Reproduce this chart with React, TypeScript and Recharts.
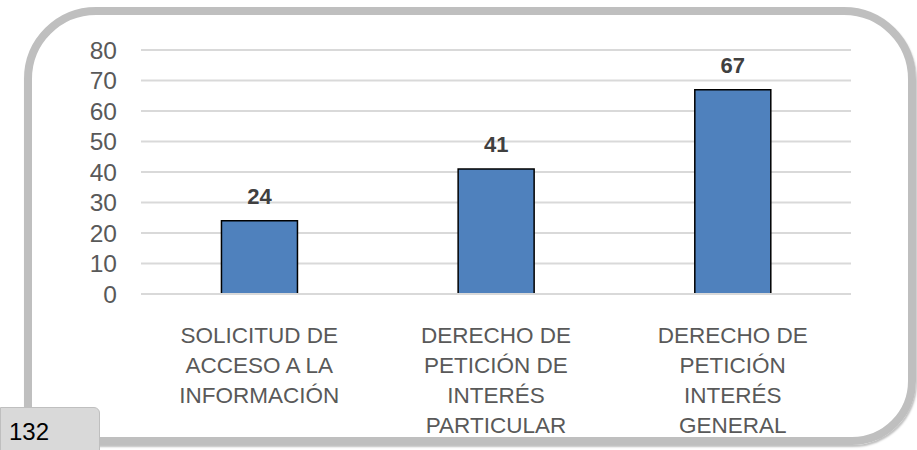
import React from 'react';
import { BarChart, Bar, XAxis, YAxis, CartesianGrid, LabelList } from 'recharts';

const categories = [
  'SOLICITUD DE|ACCESO A LA|INFORMACIÓN',
  'DERECHO DE|PETICIÓN DE|INTERÉS|PARTICULAR',
  'DERECHO DE|PETICIÓN|INTERÉS|GENERAL',
];
const values = [24, 41, 67];
const yTicks = [0, 10, 20, 30, 40, 50, 60, 70, 80];
const total = '132';

const data = categories.map((name, i) => ({ name, value: values[i] }));

const font = '"Liberation Sans", Arial, sans-serif';

const CategoryTick = (props: any) => {
  const { x, y, payload } = props;
  const lines = String(payload.value).split('|');
  return (
    <text x={x} y={y + 41} textAnchor="middle" fill="#595959" fontSize={22.5} fontFamily={font}>
      {lines.map((line: string, i: number) => (
        <tspan key={i} x={x} dy={i === 0 ? 0 : 30}>
          {line}
        </tspan>
      ))}
    </text>
  );
};

export default function App() {
  return (
    <div style={{ position: 'absolute', left: 0, top: 0, width: 917, height: 450, background: '#fff', overflow: 'hidden', fontFamily: font }}>
      {/* rounded frame */}
      <div
        style={{
          position: 'absolute',
          left: 24,
          top: 7,
          width: 917 - 24 - 16 - 1,
          height: 445 - 7 - 16,
          border: '8px solid #BFBFBF',
          borderRadius: '72px 72px 64px 0',
          boxShadow: '1px 2px 2px rgba(0,0,0,0.25)',
        }}
      />
      <BarChart
        width={917}
        height={450}
        data={data}
        margin={{ top: 50, right: 66, bottom: 0, left: 0 }}
        barCategoryGap="34%"
        style={{ position: 'absolute', left: 0, top: 0 }}
      >
        <CartesianGrid vertical={false} stroke="#D9D9D9" strokeWidth={2} />
        <XAxis
          dataKey="name"
          height={156}
          interval={0}
          tickLine={false}
          axisLine={{ stroke: '#D9D9D9', strokeWidth: 2 }}
          tick={<CategoryTick />}
        />
        <YAxis
          width={141}
          domain={[0, 80]}
          ticks={yTicks}
          interval={0}
          tickLine={false}
          axisLine={false}
          tickMargin={18}
          tick={{ fill: '#595959', fontSize: 24.5, fontFamily: font }}
        />
        <Bar dataKey="value" fill="#4F81BD" stroke="#000" strokeWidth={1.5} isAnimationActive={false}>
          <LabelList
            dataKey="value"
            position="top"
            offset={17}
            fill="#404040"
            fontSize={22}
            fontWeight="bold"
            fontFamily={font}
          />
        </Bar>
      </BarChart>
      {/* total box */}
      <div
        style={{
          position: 'absolute',
          left: 0,
          top: 407,
          width: 100,
          height: 50,
          background: '#D9D9D9',
          border: '1px solid #BFBFBF',
          borderTopRightRadius: 6,
          boxSizing: 'border-box',
          fontSize: 24,
          lineHeight: '24px',
          color: '#000',
          padding: '12px 0 0 8px',
        }}
      >
        {total}
      </div>
    </div>
  );
}
